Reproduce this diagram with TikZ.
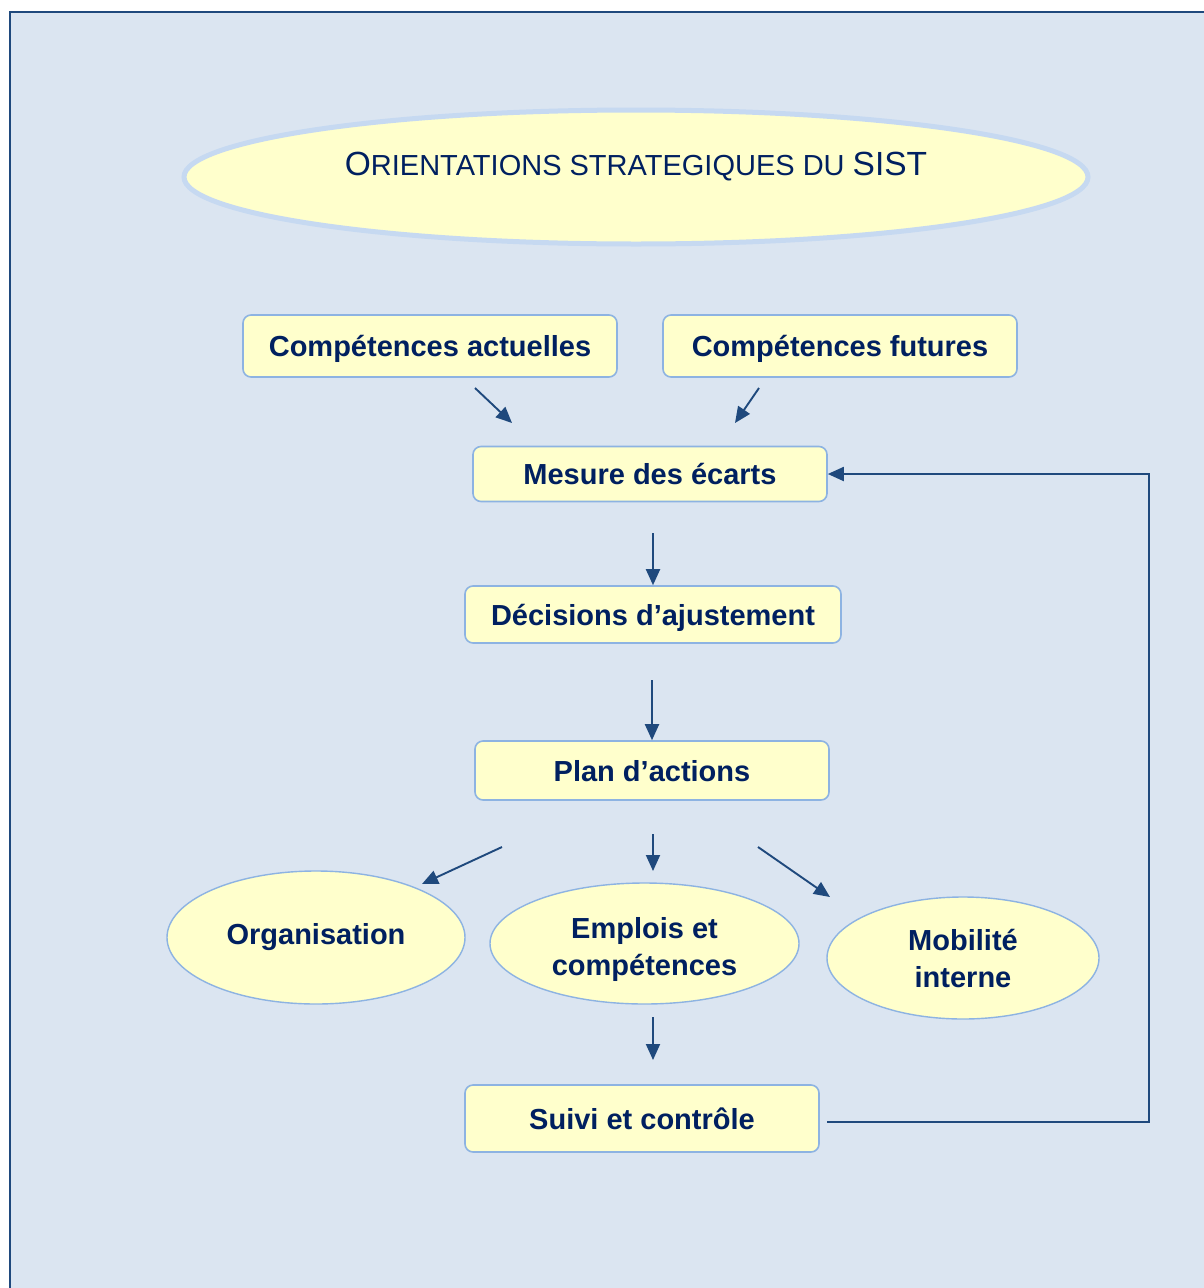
\documentclass[tikz,border=0pt]{standalone}
\usepackage{fontspec}
\setmainfont{Liberation Sans}
\usetikzlibrary{shapes.geometric,arrows.meta}
\definecolor{pagebg}{HTML}{DBE5F1}
\definecolor{framec}{HTML}{1F497D}
\definecolor{boxfill}{HTML}{FFFFCC}
\definecolor{boxedge}{HTML}{8DB3E2}
\definecolor{titleedge}{HTML}{C6D9F1}
\definecolor{navy}{HTML}{002060}
\definecolor{arrowc}{HTML}{1F497D}
\begin{document}
\begin{tikzpicture}[x=1pt,y=-1pt,
  stepbox/.style={draw=boxedge, line width=1.6pt, fill=boxfill, rounded corners=8pt,
    inner sep=0pt, font=\fontsize{29}{36}\selectfont\bfseries, text=navy,
    text height=21pt, text depth=0pt},
  oval/.style={ellipse, draw=boxedge, line width=1.4pt, fill=boxfill, inner sep=0pt,
    font=\fontsize{29}{37}\selectfont\bfseries, text=navy, align=center},
  arr/.style={draw=arrowc, line width=1.9pt, -{Triangle[length=16pt,width=14pt]}}
]
\useasboundingbox (0,0) rectangle (1204,1288);
\clip (0,0) rectangle (1204,1288);

% page frame
\draw[framec, line width=2.4pt, fill=pagebg] (10,12) rectangle (1240,1320);

% title
\node[ellipse, draw=titleedge, line width=5pt, fill=boxfill, inner sep=0pt,
      minimum width=904pt, minimum height=134pt, text=navy,
      text height=24pt, text depth=28pt] (title) at (636,177)
  {\fontsize{33.5}{40}\selectfont O{\fontsize{29}{35}\selectfont RIENTATIONS STRATEGIQUES DU }SIST};

% boxes
\node[stepbox, minimum width=374pt, minimum height=62pt] (actuelles) at (430,346) {Compétences actuelles};
\node[stepbox, minimum width=354pt, minimum height=62pt] (futures) at (840,346) {Compétences futures};
\node[stepbox, minimum width=354pt, minimum height=55pt] (mesure) at (650,474) {Mesure des écarts};
\node[stepbox, minimum width=376pt, minimum height=57pt] (decisions) at (653,614.5) {Décisions d’ajustement};
\node[stepbox, minimum width=354pt, minimum height=59pt] (plan) at (652,770.5) {Plan d’actions};
\node[stepbox, minimum width=354pt, minimum height=67pt] (suivi) at (642,1118.5) {Suivi et contrôle};

% ovals
\node[oval, minimum width=298pt, minimum height=133pt] (orga) at (316,937.5) {Organisation};
\node[oval, minimum width=309pt, minimum height=121pt, text height=64pt, text depth=0pt] (emplois) at (644.5,943.5) {Emplois et\\compétences};
\node[oval, minimum width=272pt, minimum height=122pt] (mobil) at (963,958) {Mobilité\\interne};

% free arrow ends
\coordinate (a1s) at (475,388);
\coordinate (a1e) at (512,423);
\coordinate (a2s) at (759,388);
\coordinate (a2e) at (735,423);
\coordinate (a3s) at (653,533);
\coordinate (a4s) at (652,680);
\coordinate (a5s) at (502,847);
\coordinate (a5e) at (422,884);
\coordinate (a6s) at (653,834);
\coordinate (a6e) at (653,871);
\coordinate (a7s) at (758,847);
\coordinate (a7e) at (830,897);
\coordinate (a8s) at (653,1017);
\coordinate (a8e) at (653,1060);
\coordinate (fbs) at (827,1122);
\coordinate (fbc) at (1149,1122);

% connectors
\draw[arr] (a1s) -- (a1e);
\draw[arr] (a2s) -- (a2e);
\draw[arr] (a3s) -- (decisions.north);
\draw[arr] (a4s) -- (plan.north);
\draw[arr] (a5s) -- (a5e);
\draw[arr] (a6s) -- (a6e);
\draw[arr] (a7s) -- (a7e);
\draw[arr] (a8s) -- (a8e);
\draw[arr] (fbs) -- (fbc) |- (mesure.east);
\end{tikzpicture}
\end{document}
